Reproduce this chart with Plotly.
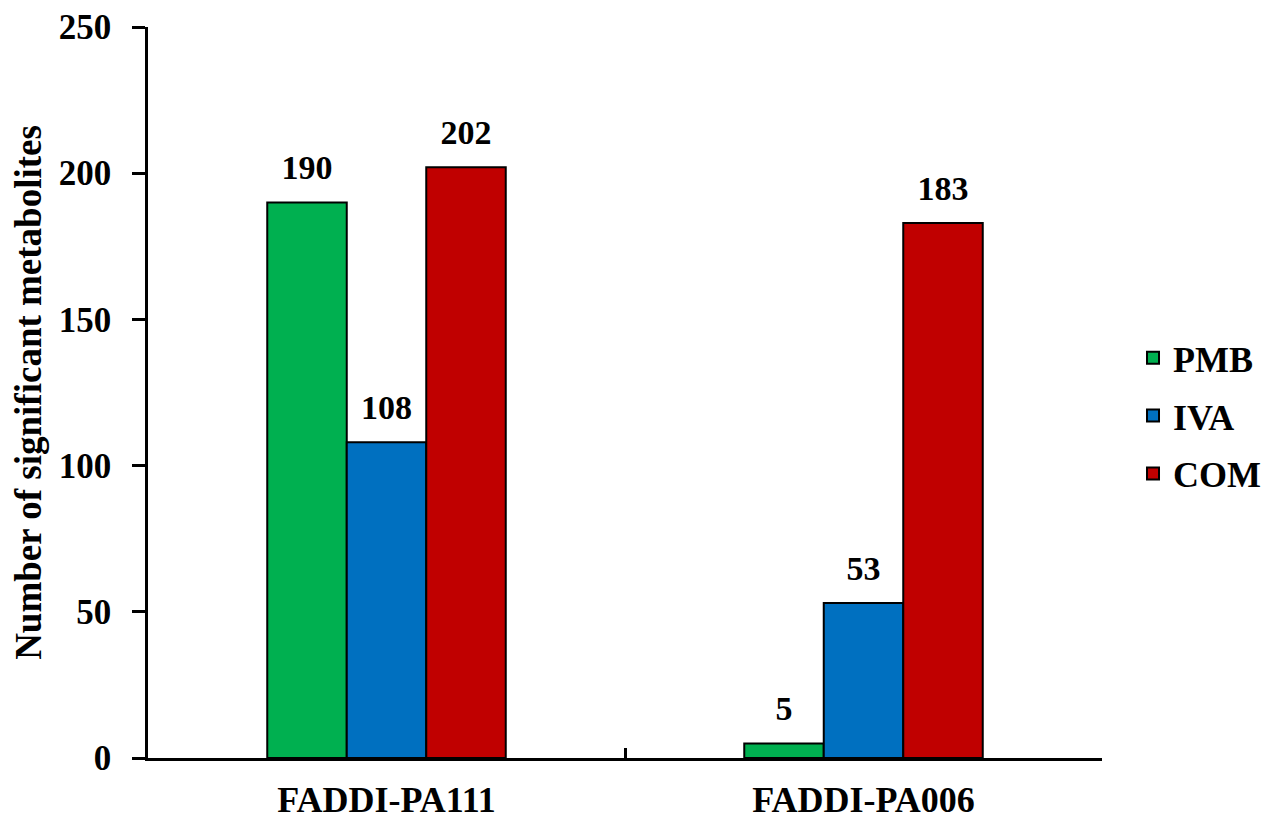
import plotly.graph_objects as go

categories = ["FADDI-PA111", "FADDI-PA006"]
series_names = ["PMB", "IVA", "COM"]
pmb = [190, 5]
iva = [108, 53]
com = [202, 183]
colors = ["#00B050", "#0070C0", "#C00000"]

FONT = "Liberation Serif"
fig = go.Figure()
for name, vals, col in zip(series_names, [pmb, iva, com], colors):
    fig.add_trace(go.Bar(
        x=categories, y=vals, name=f"<b>{name}</b>",
        marker=dict(color=col, line=dict(color="black", width=2)),
        offsetgroup=name, legendgroup=name,
    ))
for name, vals in zip(series_names, [pmb, iva, com]):
    fig.add_trace(go.Scatter(
        x=categories, y=vals, mode="markers+text",
        text=[f"<b>{v}</b>" for v in vals],
        textposition="top center",
        textfont=dict(family=FONT, size=34, color="black"),
        marker=dict(size=22, color="rgba(0,0,0,0)"),
        offsetgroup=name, showlegend=False, hoverinfo="skip",
        cliponaxis=False,
    ))

fig.update_layout(
    width=1283, height=821,
    paper_bgcolor="white", plot_bgcolor="white",
    margin=dict(l=140, r=189, t=19, b=71, autoexpand=False),
    barmode="group", bargap=0.5, bargroupgap=0,
    scattermode="group", scattergap=0.5,
    font=dict(family=FONT, size=34, color="black"),
    showlegend=True,
    legend=dict(x=1.0325, xanchor="left", y=0.468, yanchor="middle",
                font=dict(family=FONT, size=36, color="black"),
                tracegroupgap=8, itemwidth=30,
                bgcolor="rgba(0,0,0,0)"),
)
fig.update_yaxes(
    range=[0, 250], dtick=50, showgrid=False, zeroline=False,
    showline=True, linecolor="black", linewidth=2.5,
    ticks="outside", ticklen=13, tickwidth=2.5, tickcolor="black",
    tickfont=dict(family=FONT, size=35, color="black"),
    tickprefix="<b>", ticksuffix="</b>", ticklabelstandoff=14,
    automargin=False,
    title=dict(text="<b>Number of significant metabolites</b>",
               font=dict(family=FONT, size=37, color="black"), standoff=10),
)
fig.update_xaxes(
    showgrid=False, showline=True, linecolor="black", linewidth=2.5,
    ticks="inside", ticklen=10, tickwidth=2.5, tickcolor="black",
    tickson="boundaries", automargin=False,
    tickfont=dict(family=FONT, size=36, color="black"),
    tickprefix="<b>", ticksuffix="</b>", ticklabelstandoff=8,
)
fig.write_html("out.html")
